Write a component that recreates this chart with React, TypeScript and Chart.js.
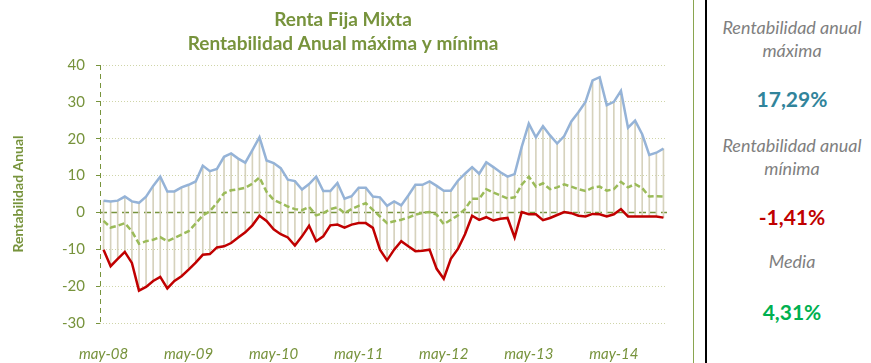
import React, { useEffect, useRef } from 'react';
import { Chart, registerables } from 'chart.js';

Chart.register(...registerables);

const MONTHS = ['ene', 'feb', 'mar', 'abr', 'may', 'jun', 'jul', 'ago', 'sep', 'oct', 'nov', 'dic'];
const START_MONTH = 4; // may
const START_YEAR = 2008;
const N_POINTS = 80;
const categories: string[] = Array.from({ length: N_POINTS }, (_, i) => {
  const m = (START_MONTH + i) % 12;
  const y = START_YEAR + Math.floor((START_MONTH + i) / 12);
  return `${MONTHS[m]}-${String(y % 100).padStart(2, '0')}`;
});

const maxValues = [
  3.2, 3.0, 3.2, 4.3, 3.0, 2.6, 4.3, 7.2, 9.7, 5.7,
  5.7, 6.8, 7.5, 8.4, 12.7, 11.2, 11.8, 15.1, 16.0, 14.6,
  13.5, 16.9, 20.4, 14.1, 13.4, 12.0, 8.9, 8.5, 6.2, 7.7,
  9.7, 5.8, 5.8, 8.0, 3.7, 4.4, 6.7, 6.7, 4.3, 4.1,
  1.8, 3.0, 1.9, 4.6, 7.5, 7.5, 8.4, 7.2, 5.9, 5.9,
  8.6, 10.5, 12.3, 10.5, 13.6, 12.3, 10.9, 9.7, 10.4, 17.8,
  24.1, 20.4, 23.4, 20.9, 18.7, 20.7, 24.7, 27.2, 30.0, 35.8,
  36.7, 29.1, 30.0, 33.0, 23.0, 24.9, 21.2, 15.6, 16.2, 17.29,
];

const meanValues = [
  -2.3, -4.1, -3.6, -2.9, -5.1, -8.5, -7.8, -7.4, -6.7, -7.8,
  -6.9, -6.0, -5.1, -3.0, -0.8, 0.3, 2.6, 5.2, 6.0, 6.3,
  6.7, 7.8, 9.5, 5.6, 3.4, 2.5, 1.6, 0.9, 0.6, 1.5,
  -0.8, -0.2, 0.9, 1.4, -0.2, 0.9, 1.8, 2.5, 0.7, -1.1,
  -2.9, -2.4, -2.0, -1.4, -0.6, -0.1, 0.1, -0.6, -3.2, -2.0,
  -0.8, 0.9, 3.7, 3.7, 6.3, 5.4, 4.6, 3.8, 4.1, 7.5,
  9.7, 7.0, 7.9, 6.3, 6.8, 7.6, 7.0, 6.3, 5.8, 6.7,
  7.0, 5.9, 6.3, 8.3, 6.8, 7.7, 6.6, 4.3, 4.4, 4.31,
];

const minValues = [
  -10.1, -14.6, -12.6, -10.7, -13.7, -21.2, -20.2, -18.6, -17.5, -20.6,
  -18.6, -17.3, -15.5, -13.6, -11.5, -11.3, -9.5, -9.2, -8.3, -6.8,
  -5.4, -3.5, -0.9, -2.3, -4.6, -5.9, -6.8, -9.0, -6.5, -3.6,
  -7.8, -6.5, -3.5, -3.3, -4.1, -3.3, -2.9, -2.9, -4.2, -10.1,
  -13.0, -10.1, -7.8, -9.2, -10.5, -10.4, -10.1, -15.3, -18.0, -12.6,
  -9.9, -5.9, -0.9, -2.0, -1.3, -2.2, -1.7, -1.5, -6.8, 0.1,
  -0.5, -0.5, -2.1, -1.5, -0.7, 0.1, -0.2, -0.9, -1.1, -0.4,
  -0.5, -1.1, -0.5, 0.9, -1.1, -1.1, -1.1, -1.1, -1.1, -1.41,
];

const Y_MIN = -30;
const Y_MAX = 40;
const Y_STEP = 10;
const LABEL_EVERY = 12;

const titleLines = ['Renta Fija Mixta', 'Rentabilidad Anual máxima y mínima'];
const yAxisTitle = 'Rentabilidad Anual';

const summary = [
  { label: ['Rentabilidad anual', 'máxima'], value: '17,29%', color: '#31849b' },
  { label: ['Rentabilidad anual', 'mínima'], value: '-1,41%', color: '#c00000' },
  { label: ['Media'], value: '4,31%', color: '#00b050' },
];

const GREEN = '#77933c';
const FONT = 'Lato, "Open Sans", sans-serif';

const axisLinesPlugin = {
  id: 'axisLines',
  beforeDatasetsDraw(chart: any) {
    const { ctx, chartArea, scales } = chart;
    const y0 = scales.y.getPixelForValue(0);
    ctx.save();
    ctx.strokeStyle = GREEN;
    ctx.lineWidth = 1;
    ctx.setLineDash([5, 4]);
    ctx.beginPath();
    ctx.moveTo(chartArea.left + 0.5, chartArea.top);
    ctx.lineTo(chartArea.left + 0.5, chartArea.bottom);
    ctx.stroke();
    ctx.lineWidth = 1.5;
    ctx.setLineDash([7, 4]);
    ctx.beginPath();
    ctx.moveTo(chartArea.left, y0);
    ctx.lineTo(chartArea.right, y0);
    ctx.stroke();
    ctx.restore();
  },
};

function ChartCanvas() {
  const ref = useRef<HTMLCanvasElement | null>(null);
  useEffect(() => {
    if (!ref.current) return;
    const chart = new Chart(ref.current, {
      data: {
        labels: categories,
        datasets: [
          {
            type: 'line',
            label: 'Máxima',
            data: maxValues,
            borderColor: '#95b3d7',
            borderWidth: 2.5,
            pointRadius: 0,
            tension: 0,
            order: 1,
          },
          {
            type: 'line',
            label: 'Media',
            data: meanValues,
            borderColor: '#9bbb59',
            borderWidth: 2.5,
            borderDash: [6, 3],
            pointRadius: 0,
            tension: 0,
            order: 2,
          },
          {
            type: 'line',
            label: 'Mínima',
            data: minValues,
            borderColor: '#c00000',
            borderWidth: 2.5,
            pointRadius: 0,
            tension: 0,
            order: 0,
          },
          {
            type: 'bar',
            label: 'Rango',
            data: minValues.map((v, i) => [v, maxValues[i]]),
            backgroundColor: '#d6d2bd',
            borderWidth: 0,
            barThickness: 1,
            order: 10,
          } as any,
        ],
      },
      options: {
        animation: false,
        responsive: true,
        maintainAspectRatio: false,
        layout: { padding: { left: 19, right: 19, top: 0, bottom: 0 } },
        plugins: {
          legend: { display: false },
          tooltip: { enabled: false },
          title: {
            display: true,
            text: titleLines,
            color: GREEN,
            font: { family: FONT, size: 19, weight: 'bold', lineHeight: 24 / 19 },
            padding: { top: 8, bottom: 9 },
          },
        },
        scales: {
          x: {
            type: 'category',
            offset: true,
            grid: { display: false },
            border: { display: false },
            ticks: {
              autoSkip: false,
              maxRotation: 0,
              minRotation: 0,
              padding: 14,
              color: GREEN,
              font: { family: FONT, size: 15, style: 'italic' },
              callback: (_v: any, idx: number) => (idx % LABEL_EVERY === 0 ? categories[idx] : null),
            },
            afterFit: (s: any) => {
              s.height = 40;
            },
          },
          y: {
            min: Y_MIN,
            max: Y_MAX,
            border: { display: false, dash: [1, 2] },
            grid: {
              color: (c: any) => (c.tick && c.tick.value === 0 ? 'rgba(0,0,0,0)' : '#cfd5a8'),
              lineWidth: 1,
              drawTicks: true,
              tickLength: 4,
              tickColor: GREEN,
              tickBorderDash: [],
            },
            ticks: {
              stepSize: Y_STEP,
              padding: 11,
              color: GREEN,
              font: { family: FONT, size: 15 },
            },
            title: {
              display: true,
              text: yAxisTitle,
              color: GREEN,
              font: { family: FONT, size: 14, weight: 'bold' },
              padding: { top: -9, bottom: 0 },
            },
            afterFit: (s: any) => {
              s.width = 81;
            },
          },
        },
      },
      plugins: [axisLinesPlugin],
    } as any);
    return () => chart.destroy();
  }, []);
  return <canvas ref={ref} />;
}

export default function App() {
  const tops = [
    { label: 16, value: 87 },
    { label: 134, value: 205 },
    { label: 250, value: 300 },
  ];
  return (
    <div style={{ position: 'absolute', left: 0, top: 0, width: 871, height: 363, background: '#fff', overflow: 'hidden' }}>
      <div style={{ position: 'absolute', left: 0, top: 0, width: 686, height: 363 }}>
        <ChartCanvas />
      </div>
      <div style={{ position: 'absolute', left: 693, top: 0, width: 1, height: 363, background: '#8aa54f' }} />
      <div style={{ position: 'absolute', left: 705, top: 0, width: 2, height: 363, background: '#000' }} />
      {summary.map((s, i) => (
        <React.Fragment key={i}>
          <div
            style={{
              position: 'absolute',
              left: 707,
              width: 170,
              top: tops[i].label,
              textAlign: 'center',
              fontFamily: FONT,
              fontStyle: 'italic',
              fontSize: 18,
              lineHeight: '23px',
              color: '#7f7f7f',
            }}
          >
            {s.label.map((l, j) => (
              <div key={j}>{l}</div>
            ))}
          </div>
          <div
            style={{
              position: 'absolute',
              left: 707,
              width: 170,
              top: tops[i].value,
              textAlign: 'center',
              fontFamily: FONT,
              fontWeight: 'bold',
              fontSize: 21,
              lineHeight: '24px',
              color: s.color,
            }}
          >
            {s.value}
          </div>
        </React.Fragment>
      ))}
    </div>
  );
}
